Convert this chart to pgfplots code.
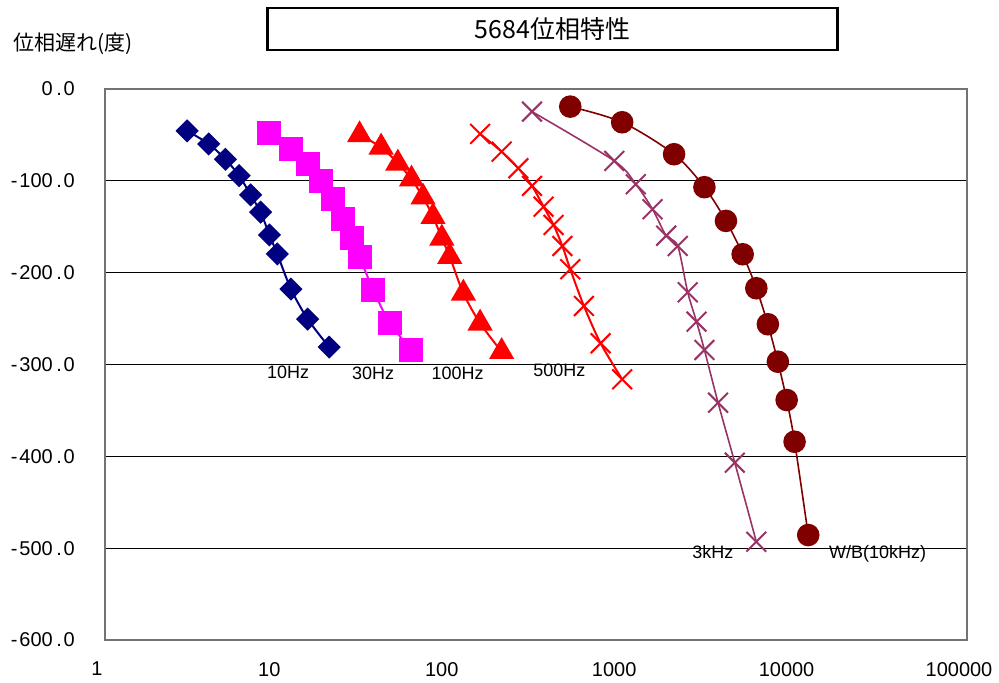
\documentclass[border=0pt]{standalone}
\usepackage{fontspec}
\setmainfont{Liberation Sans}
\newfontfamily\cjk{Noto Sans CJK JP}
\usepackage{pgfplots}
\pgfplotsset{compat=1.18}
\definecolor{cnavy}{HTML}{000080}
\definecolor{cmag}{HTML}{FF00FF}
\definecolor{cred}{HTML}{FF0000}
\definecolor{cpur}{HTML}{993366}
\definecolor{cbrn}{HTML}{800000}
\newcommand{\ylab}[2]{#1\kern1.8pt.\kern0.9pt#2}
\newcommand{\negs}{-\kern1pt}
\begin{document}
\begin{tikzpicture}
\path (0pt,0pt) rectangle (499.5pt,341pt);
\draw[line width=1.4pt] (134pt,337pt) rectangle (419pt,316pt);
\node[font=\cjk\fontsize{12.5}{14}\selectfont] at (276.5pt,326.5pt) {5684位相特性};
\node[font=\cjk\fontsize{10.5}{12}\selectfont] at (36.5pt,319pt) {位相遅れ(度)};
\begin{axis}[
  at={(52.5pt,20.65pt)}, anchor=south west,
  width=431.5pt, height=275.85pt, scale only axis,
  xmode=log, xmin=1, xmax=100000, ymin=-600, ymax=0,
  xtick={1,10,100,1000,10000,100000},
  xticklabels={1,10,100,1000,10000,100000},
  xminorticks=false,
  ytick={-600,-500,-400,-300,-200,-100,0},
  yticklabels={\negs\ylab{600}{0},\negs\ylab{500}{0},\negs\ylab{400}{0},\negs\ylab{300}{0},\negs\ylab{200}{0},\negs\ylab{100}{0},\ylab{0}{0}},
  major tick length=0pt,
  ymajorgrids, grid style={black, line width=0.5pt},
  axis line style={draw=black!55, line width=0.8pt},
  tick label style={font=\fontsize{10}{12}\selectfont},
  yticklabel style={xshift=-11.5pt},
  xticklabel style={yshift=-7.5pt, xshift=-4pt},
  clip=false,
  every axis plot/.append style={smooth, tension=0.5},
]
\addplot[cnavy, line width=1pt, mark=square*, mark size=3.6pt, mark options={rotate=45, fill=cnavy}] coordinates {
(3,-45.7) (4,-59.9) (5,-76.6) (6,-94.4) (7,-115.4) (8,-134.2) (9,-159.0) (10,-179.7) (12,-217.9) (15,-250.6) (20,-281.1)};
\addplot[cmag, line width=1pt, mark=square*, mark size=5.5pt, mark options={fill=cmag}] coordinates {
(9,-47.6) (12,-65.7) (15,-82.0) (18,-99.9) (21,-120.1) (24,-141.6) (27,-161.9) (30,-182.9) (36,-218.9) (45,-255.1) (60,-284.2)};
\addplot[cred, line width=1pt, mark=triangle*, mark size=6.3pt, mark options={fill=cred}] coordinates {
(30,-50.1) (40,-63.5) (50,-80.9) (60,-98.3) (70,-117.9) (80,-139.1) (90,-162.6) (100,-182.6) (120,-222.5) (150,-255.1) (200,-286.1)};
\addplot[cred, line width=1pt, mark=x, mark size=7pt, mark options={line width=1pt}] coordinates {
(150,-49.0) (200,-68.3) (250,-86.4) (300,-105.6) (350,-128.2) (400,-148.1) (450,-171.0) (500,-196.3) (600,-236.3) (750,-276.9) (1000,-316.1)};
\addplot[cpur, line width=0.8pt, mark=x, mark size=7pt, mark options={line width=1pt}] coordinates {
(300,-24.7) (900,-78.4) (1200,-103.8) (1500,-131.0) (1800,-159.8) (2100,-171.0) (2400,-221.4) (2700,-253.4) (3000,-284.2) (3600,-341.6) (4500,-406.9) (6000,-493.0)};
\addplot[cbrn, line width=0.8pt, mark=*, mark size=5.25pt, mark options={fill=cbrn}] coordinates {
(500,-19.3) (1000,-36.3) (2000,-71.1) (3000,-107.0) (4000,-143.7) (5000,-180.0) (6000,-217.0) (7000,-256.2) (8000,-297.0) (9000,-338.7) (10000,-384.1) (12000,-485.7)};
\begin{scope}[every node/.style={font=\fontsize{9}{11}\selectfont}]
\node at (axis cs:11.57,-308.9) {10Hz};
\node at (axis cs:35.9,-309.4) {30Hz};
\node at (axis cs:111,-309.4) {100Hz};
\node at (axis cs:432.6,-306.1) {500Hz};
\node at (axis cs:3354,-504.6) {3kHz};
\node at (axis cs:30300,-506.3) {W/B(10kHz)};
\end{scope}
\end{axis}
\end{tikzpicture}
\end{document}
